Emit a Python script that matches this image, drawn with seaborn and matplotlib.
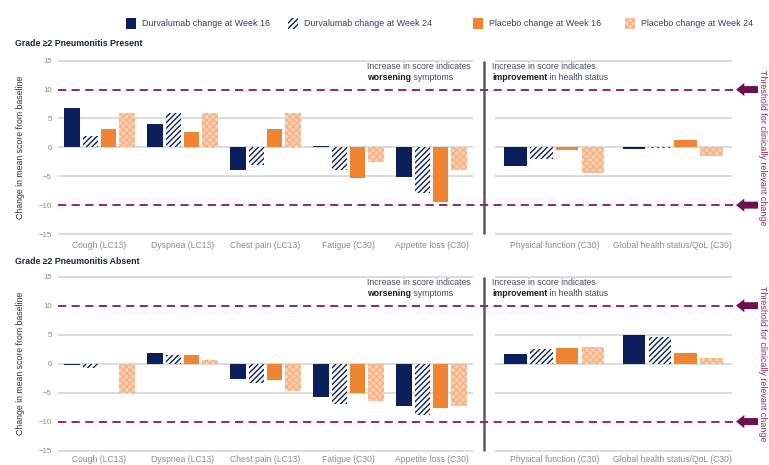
import matplotlib
matplotlib.use("Agg")
import matplotlib.pyplot as plt
from matplotlib.patches import Patch
from matplotlib.transforms import blended_transform_factory
import seaborn as sns
import pandas as pd

# ---- data -------------------------------------------------------------
series = ["Durvalumab change at Week 16", "Durvalumab change at Week 24",
          "Placebo change at Week 16", "Placebo change at Week 24"]
symptom_items = ["Cough (LC13)", "Dyspnea (LC13)", "Chest pain (LC13)",
                 "Fatigue (C30)", "Appetite loss (C30)"]
function_items = ["Physical function (C30)", "Global health status/QoL (C30)"]

present_symptoms = {
    series[0]: [6.8, 4.0, -4.0, 0.3, -5.1],
    series[1]: [2.0, 6.0, -3.0, -3.9, -7.9],
    series[2]: [3.2, 2.6, 3.2, -5.3, -9.5],
    series[3]: [5.9, 5.9, 5.9, -2.6, -3.9],
}
present_functions = {
    series[0]: [-3.3, -0.2],
    series[1]: [-2.0, -0.1],
    series[2]: [-0.4, 1.3],
    series[3]: [-4.5, -1.5],
}
absent_symptoms = {
    series[0]: [-0.2, 1.9, -2.7, -5.8, -7.4],
    series[1]: [-0.7, 1.5, -3.3, -7.0, -8.8],
    series[2]: [0.0, 1.5, -2.9, -5.1, -7.7],
    series[3]: [-5.0, 0.7, -4.8, -6.5, -7.3],
}
absent_functions = {
    series[0]: [1.7, 4.9],
    series[1]: [2.5, 4.6],
    series[2]: [2.7, 1.8],
    series[3]: [2.8, 1.0],
}
panel_titles = ["Grade \u22652 Pneumonitis Present", "Grade \u22652 Pneumonitis Absent"]
y_ticks = [-15, -10, -5, 0, 5, 10, 15]
grid_levels = [-15, -5, 0, 5, 15]
threshold = 10

# ---- styles -----------------------------------------------------------
NAVY = "#0b1f5c"
ORANGE = "#ef8533"
PEACH = "#fbd2b3"
PEACH_HATCH = "#f5b183"
PURPLE = "#8c2a6e"
ARROW = "#6e0f50"
GRID = "#d9d9d9"
TICK = "#8a8a8a"

bar_styles = [
    dict(facecolor=NAVY, edgecolor=NAVY, hatch=None),
    dict(facecolor="white", edgecolor=NAVY, hatch="//////"),
    dict(facecolor=ORANGE, edgecolor=ORANGE, hatch=None),
    dict(facecolor=PEACH, edgecolor=PEACH_HATCH, hatch="xxxxx"),
]

sns.set_theme(style="white")
plt.rcParams["font.family"] = ["Liberation Sans", "DejaVu Sans"]
plt.rcParams["hatch.linewidth"] = 1.0

W, H = 769, 465
fig = plt.figure(figsize=(W / 100, H / 100), dpi=100)


def px_axes(x0, x1, y0, y1):
    """Axes placed by pixel edges (top-left origin)."""
    return fig.add_axes([x0 / W, 1 - y1 / H, (x1 - x0) / W, (y1 - y0) / H])


def long_form(values, cats):
    rows = []
    for s in series:
        for c, v in zip(cats, values[s]):
            rows.append(dict(item=c, series=s, value=v))
    return pd.DataFrame(rows)


def draw_bars(ax, values, cats):
    df = long_form(values, cats)
    sns.barplot(data=df, x="item", y="value", hue="series", hue_order=series,
                order=cats, errorbar=None, width=0.87, gap=0.12,
                legend=False, ax=ax)
    for cont, st in zip(ax.containers, bar_styles):
        for bar in cont:
            bar.set_facecolor(st["facecolor"])
            bar.set_edgecolor(st["edgecolor"])
            bar.set_hatch(st["hatch"])
            bar.set_linewidth(0)
    ax.set_xlim(-0.5, len(cats) - 0.5)


def style_axes(ax, show_yticks, xpad):
    ax.set_ylim(-15.6, 15.6)
    for lvl in grid_levels:
        ax.axhline(lvl, color=GRID, lw=1.3, zorder=0)
    for side in ax.spines.values():
        side.set_visible(False)
    ax.patch.set_visible(False)
    ax.set_xlabel("")
    ax.set_ylabel("")
    ax.tick_params(axis="x", length=0, pad=xpad, labelsize=6.2, labelcolor=TICK)
    if show_yticks:
        ax.set_yticks(y_ticks)
        ax.tick_params(axis="y", length=0, pad=4.5, labelsize=5.6, labelcolor=TICK)
    else:
        ax.set_yticks([])


def add_note(ax, x, y, bold_word, rest):
    ax.text(x, y, "Increase in score indicates", transform=ax.transAxes,
            fontsize=6.3, color="#4a4a66", va="baseline", ha="left")
    t = ax.text(x, y - 0.062, bold_word, transform=ax.transAxes,
                fontsize=6.3, color="#1a1a1a", fontweight="bold",
                va="baseline", ha="left")
    ax.annotate(" " + rest, xy=(1, 0), xycoords=t, fontsize=6.3,
                color="#4a4a66", va="bottom", ha="left")


# (symptom values, function values, top px, bottom px, title px, label pad)
panels = [
    (present_symptoms, present_functions, 57.2, 237.5, 44, 2.5),
    (absent_symptoms, absent_functions, 273.2, 454.0, 261, 0.8),
]

LX0, LX1 = 58, 473
RX0, RX1 = 495, 732
line_end = 736
arrow_tail = 758

for (sym_vals, fn_vals, y0, y1, title_y, xpad), title in zip(panels, panel_titles):
    axl = px_axes(LX0, LX1, y0, y1)
    axr = px_axes(RX0, RX1, y0, y1)
    draw_bars(axl, sym_vals, symptom_items)
    draw_bars(axr, fn_vals, function_items)
    style_axes(axl, True, xpad)
    style_axes(axr, False, xpad)

    # clinically relevant thresholds spanning both panels
    span = (line_end - LX0) / (LX1 - LX0)
    tail = (arrow_tail - LX0) / (LX1 - LX0)
    for lvl in (threshold, -threshold):
        axl.axhline(lvl, xmin=0, xmax=span, color=PURPLE, lw=1.4,
                    ls=(0, (4.2, 2.8)), clip_on=False, zorder=3)
        axl.annotate("", xy=(span, lvl), xytext=(tail, lvl),
                     xycoords=("axes fraction", "data"),
                     textcoords=("axes fraction", "data"),
                     annotation_clip=False,
                     arrowprops=dict(arrowstyle="simple,head_length=0.6,head_width=0.95,tail_width=0.5",
                                     mutation_scale=10, fc=ARROW, ec="none",
                                     shrinkA=0, shrinkB=0))

    # separator between symptom and function scales
    sep_x = (484 - LX0) / (LX1 - LX0)
    axl.plot([sep_x, sep_x], [-15, 15], color="#5a5a5a", lw=1.8,
             transform=blended_transform_factory(axl.transAxes, axl.transData),
             clip_on=False, solid_capstyle="butt")

    axl.set_ylabel("Change in mean score from baseline", fontsize=6.3,
                   color="#333333")
    axl.yaxis.set_label_coords((25 - LX0) / (LX1 - LX0), 0.5)

    add_note(axl, (367 - LX0) / (LX1 - LX0), 0.935, "worsening", "symptoms")
    add_note(axr, (492 - RX0) / (RX1 - RX0), 0.935, "improvement", "in health status")

    axr.text((763 - RX0) / (RX1 - RX0), 0, "Threshold for clinically relevant change",
             transform=blended_transform_factory(axr.transAxes, axr.transData),
             rotation=270, ha="center", va="center", fontsize=6.4, color=PURPLE)

    fig.text(15 / W, 1 - title_y / H, title, fontsize=6.3, fontweight="bold",
             color="#1c2340", ha="left", va="center")

# legend, one entry per series
legend_x = [126, 288, 473, 625]
for s, st, lx in zip(series, bar_styles, legend_x):
    h = Patch(facecolor=st["facecolor"], edgecolor=st["edgecolor"],
              hatch=st["hatch"], linewidth=0)
    fig.legend([h], [s], loc="center left", bbox_to_anchor=(lx / W, 1 - 23.5 / H),
               frameon=False, fontsize=6.4, handlelength=1.1, handleheight=1.4,
               handletextpad=0.75, borderaxespad=0, borderpad=0,
               labelcolor="#3a3a5a")

fig.savefig("out.png", dpi=100, facecolor="white")
